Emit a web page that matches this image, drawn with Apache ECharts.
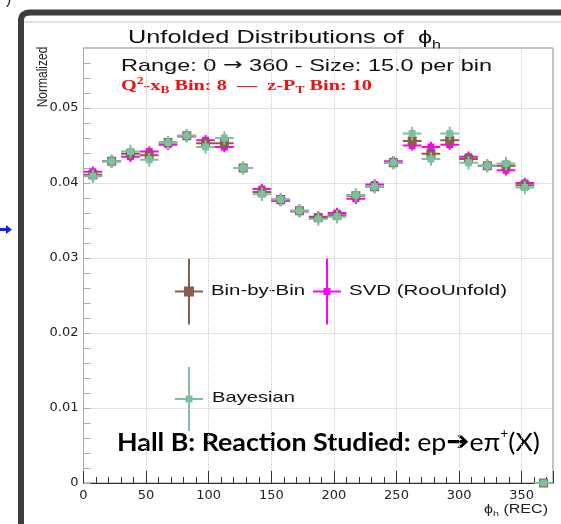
<!DOCTYPE html>
<html><head><meta charset="utf-8">
<script src="https://cdn.jsdelivr.net/npm/echarts@6/dist/echarts.min.js"></script>
<style>html,body{margin:0;padding:0;background:#fff}#c{width:561px;height:524px}</style>
</head><body><div id="c"></div>
<script>
// ---- data ----
const binCenters = [7.5,22.5,37.5,52.5,67.5,82.5,97.5,112.5,127.5,142.5,157.5,172.5,187.5,202.5,217.5,232.5,247.5,262.5,277.5,292.5,307.5,322.5,337.5,352.5,367.5];
const binByBin  = [0.0411,0.0429,0.0439,0.0437,0.0454,0.0463,0.0453,0.0453,0.0420,0.0388,0.0378,0.0363,0.0354,0.0357,0.0383,0.0395,0.0427,0.0456,0.0439,0.0457,0.0432,0.0423,0.0423,0.0397,0];
const svd       = [0.0415,0.0429,0.0435,0.0442,0.0451,0.0462,0.0457,0.0448,0.0420,0.0392,0.0376,0.0362,0.0355,0.0360,0.0379,0.0398,0.0429,0.0450,0.0448,0.0451,0.0435,0.0423,0.0417,0.0400,0];
const bayesian  = [0.0409,0.0429,0.0442,0.0431,0.0454,0.0463,0.0448,0.0460,0.0420,0.0385,0.0378,0.0363,0.0352,0.0355,0.0384,0.0395,0.0427,0.0466,0.0432,0.0466,0.0427,0.0423,0.0426,0.0394,0];
const errBinByBin = [0.0008,0.0008,0.0008,0.0008,0.0008,0.0008,0.0008,0.0008,0.0008,0.0008,0.0008,0.0008,0.0008,0.0008,0.0008,0.0008,0.0008,0.0008,0.0008,0.0008,0.0008,0.0008,0.0008,0.0008,0];
const errSvd      = [0.0007,0.0007,0.0007,0.0007,0.0007,0.0007,0.0007,0.0007,0.0007,0.0007,0.0007,0.0007,0.0007,0.0007,0.0007,0.0007,0.0007,0.0007,0.0007,0.0007,0.0007,0.0007,0.0007,0.0007,0];
const errBayesian = [0.0009,0.0009,0.0009,0.0009,0.0009,0.0009,0.0009,0.0009,0.0009,0.0009,0.0009,0.0009,0.0009,0.0009,0.0009,0.0009,0.0009,0.0009,0.0009,0.0009,0.0009,0.0009,0.0009,0.0009,0];
const xTickLabels = ['0','50','100','150','200','250','300','350'];
const yTickLabels = ['0','0.01','0.02','0.03','0.04','0.05'];

// ---- style ----
const BROWN = '#8b5d4b', MAGENTA = '#ff00ff', GREEN = '#7dc0a0';
const HALF_BIN = 7.5;
const SANS = '"Liberation Sans", Arial, sans-serif';
const SERIF = '"Liberation Serif", "Times New Roman", serif';

const mctx = document.createElement('canvas').getContext('2d');
function measure(t, font){ mctx.font = font; return mctx.measureText(t).width; }
function textRun(segs, x, yMid, targetW, fill, align){
  let cx = 0; const kids = [];
  segs.forEach(s => {
    const w = measure(s.t, s.font);
    kids.push({type:'text', x:cx, y:(s.dy||0), style:{text:s.t, font:s.font, fill:s.fill||fill, align:'left', verticalAlign:'middle'}});
    cx += w;
  });
  const sx = targetW ? targetW / cx : 1;
  const gx = align === 'right' ? x - cx*sx : x;
  return {type:'group', x:gx, y:yMid, scaleX:sx, children:kids};
}

function errSeries(name, vals, errs, color, size, z){
  return {
    type:'custom', name, coordinateSystem:'cartesian2d', z, clip:false,
    data: binCenters.map((x,i)=>[x, vals[i], errs[i]]),
    encode:{x:0, y:1},
    renderItem(params, api){
      const x = api.value(0), y = api.value(1), e = api.value(2);
      const c = api.coord([x,y]);
      const l = api.coord([x-HALF_BIN,y]), r = api.coord([x+HALF_BIN,y]);
      const t = api.coord([x,y+e]), b = api.coord([x,y-e]);
      return {type:'group', children:[
        {type:'line', shape:{x1:l[0],y1:c[1],x2:r[0],y2:c[1]}, style:{stroke:color, lineWidth:2}},
        {type:'line', shape:{x1:c[0],y1:t[1],x2:c[0],y2:b[1]}, style:{stroke:color, lineWidth:2}},
        {type:'rect', shape:{x:c[0]-size/2, y:c[1]-size/2, width:size, height:size}, style:{fill:color}}
      ]};
    }
  };
}

function legendMark(cx, cy, color, size, halfH, halfV){
  return [
    {type:'line', shape:{x1:cx-halfH,y1:cy,x2:cx+halfH,y2:cy}, style:{stroke:color, lineWidth:2}},
    {type:'line', shape:{x1:cx,y1:cy-halfV,x2:cx,y2:cy+halfV}, style:{stroke:color, lineWidth:2}},
    {type:'rect', shape:{x:cx-size/2,y:cy-size/2,width:size,height:size}, style:{fill:color}}
  ];
}

const chart = echarts.init(document.getElementById('c'), null, {renderer:'canvas'});
const option = {
  animation:false,
  backgroundColor:'#fff',
  grid:{left:83.5, right:8, top:48, bottom:41, show:true, borderColor:'#888', borderWidth:1, backgroundColor:'transparent'},
  xAxis:[
    {type:'value', min:0, max:375, interval:10, position:'bottom',
     axisLine:{show:true, onZero:false, lineStyle:{color:'#333', width:1}},
     axisTick:{show:true, inside:true, length:6, lineStyle:{color:'#333'}},
     axisLabel:{show:true, margin:6, fontFamily:'"DejaVu Sans"', fontSize:13, color:'#222',
       formatter:v => (Math.round(v)%50===0 && v<=350) ? xTickLabels[Math.round(v)/50] : ''},
     splitLine:{show:false}},
    {type:'value', min:0, max:375, interval:50, position:'bottom',
     axisLine:{show:false}, axisTick:{show:true, inside:true, length:12, lineStyle:{color:'#333'}},
     axisLabel:{show:false},
     splitLine:{show:true, lineStyle:{type:'dotted', color:'#c8c8c8'}}}
  ],
  yAxis:[
    {type:'value', min:0, max:0.058, interval:0.002, position:'left',
     axisLine:{show:true, onZero:false, lineStyle:{color:'#aaa'}},
     axisTick:{show:true, inside:true, length:7, lineStyle:{color:'#aaa'}},
     axisLabel:{show:true, margin:5, fontFamily:'"DejaVu Sans"', fontSize:13, color:'#222', showMaxLabel:false,
       formatter:v => { const k = Math.round(v*1000); return (k%10===0 && k<=50) ? yTickLabels[k/10] : ''; }},
     splitLine:{show:false}},
    {type:'value', min:0, max:0.058, interval:0.01, position:'left',
     axisLine:{show:false}, axisTick:{show:false}, axisLabel:{show:false},
     splitLine:{show:true, lineStyle:{type:'dotted', color:'#c8c8c8'}}}
  ],
  series:[
    errSeries('SVD (RooUnfold)', svd, errSvd, MAGENTA, 7, 3),
    errSeries('Bin-by-Bin', binByBin, errBinByBin, BROWN, 9, 4),
    errSeries('Bayesian', bayesian, errBayesian, GREEN, 7, 5)
  ],
  graphic:{elements:[
    // slide frame
    {type:'polyline', shape:{points:[[21,524],[21,19],[22.5,15],[26,13],[30,12.5],[561,12.5]]}, style:{stroke:'#3d3d3d', lineWidth:6, fill:null, lineJoin:'round'}},
    {type:'line', shape:{x1:24,y1:22,x2:561,y2:22}, style:{stroke:'#c4c4c4', lineWidth:1}},
    {type:'text', x:6, y:-8, style:{text:')', font:'16px '+SANS, fill:'#222'}},
    // blue arrow
    {type:'polygon', shape:{points:[[0,228],[6,228],[6,225],[12,229.5],[6,234],[6,231],[0,231]]}, style:{fill:'#1a1aff'}},
    // titles
    textRun([{t:'Unfolded Distributions of  ', font:'19px '+SANS},{t:'ϕ', font:'19px '+SANS},{t:'h', font:'12px '+SANS, dy:8}], 128, 38, 313, '#111'),
    textRun([{t:'Range: 0 ', font:'17px '+SANS},{t:'→', font:'17px "DejaVu Sans"'},{t:' 360 - Size: 15.0 per bin', font:'17px '+SANS}], 121, 66, 371, '#111'),
    textRun([
      {t:'Q', font:'bold 15px '+SERIF},{t:'2', font:'bold 10px '+SERIF, dy:-5},
      {t:'-x', font:'bold 15px '+SERIF},{t:'B', font:'bold 10px '+SERIF, dy:4},
      {t:' Bin: 8  —  z-P', font:'bold 15px '+SERIF},{t:'T', font:'bold 10px '+SERIF, dy:4},
      {t:' Bin: 10', font:'bold 15px '+SERIF}], 121, 86, 251, '#ee1111'),
    // y axis title
    {type:'text', x:43, y:77, rotation:Math.PI/2, scaleY:1.25, style:{text:'Normalized', font:'12px '+SANS, fill:'#222', align:'center', verticalAlign:'middle'}},
    // x axis title
    textRun([{t:'ϕ', font:'12px '+SANS},{t:'h', font:'8px '+SANS, dy:4},{t:' (REC)', font:'12px '+SANS}], 548, 510, 64, '#222', 'right'),
    // legend
    ...legendMark(189, 291.5, BROWN, 10, 14, 33),
    textRun([{t:'Bin-by-Bin', font:'15px '+SANS}], 211, 291, 94, '#111'),
    ...legendMark(327, 291.5, MAGENTA, 7, 14, 33),
    textRun([{t:'SVD (RooUnfold)', font:'15px '+SANS}], 349, 291, 158, '#111'),
    ...legendMark(189, 399, GREEN, 7, 14, 32),
    textRun([{t:'Bayesian', font:'15px '+SANS}], 212, 398, 83, '#111'),
    // Hall B annotation
    textRun([
      {t:'Hall B: Reaction Studied: ', font:'bold 25px Lato'},
      {t:'ep', font:'25px Lato'},
      {t:'➔', font:'bold 26px "DejaVu Sans"'},
      {t:'eπ', font:'25px Lato'},
      {t:'+', font:'13px Lato', dy:-9},
      {t:'(X)', font:'25px Lato'}], 117, 443, 423, '#000')
  ]}
};
chart.setOption(option);
</script>
</body></html>
